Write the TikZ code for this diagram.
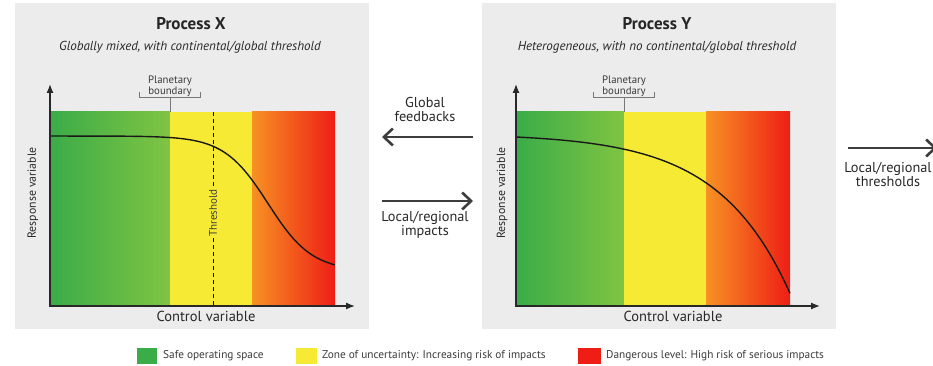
\documentclass[tikz,border=0pt]{standalone}
\usepackage{fontspec}
\setmainfont{PT Sans}
\usetikzlibrary{arrows.meta}
\definecolor{panelgray}{RGB}{236,236,236}
\definecolor{gA}{RGB}{58,172,72}
\definecolor{gB}{RGB}{128,196,66}
\definecolor{yel}{RGB}{246,234,52}
\definecolor{oA}{RGB}{247,145,35}
\definecolor{rB}{RGB}{238,30,22}
\definecolor{ink}{RGB}{40,40,40}
\definecolor{txt}{RGB}{60,60,60}
\definecolor{brk}{RGB}{120,120,120}
\begin{document}
\begin{tikzpicture}[x=1pt,y=-1pt,
  axis/.style={draw=ink,line width=1.3pt,{Latex[length=9pt,width=7pt]}-{Latex[length=9pt,width=7pt]}},
  curve/.style={draw=black!90,line width=1.4pt},
  bracket/.style={draw=brk,line width=0.8pt},
  bigarrow/.style={draw=ink!90,line width=2.6pt,-{Straight Barb[length=9pt,width=17pt]}},
  title/.style={font=\fontsize{17}{20}\selectfont\bfseries,text=black!85},
  subtitle/.style={font=\fontsize{13}{15}\selectfont\itshape,text=ink},
  pblabel/.style={font=\fontsize{10.8}{11}\selectfont,text=txt,align=center},
  axlabel/.style={font=\fontsize{14.5}{16}\selectfont,text=ink},
  ylabel/.style={font=\fontsize{11.8}{13}\selectfont,text=ink,rotate=90},
  midlabel/.style={font=\fontsize{14.3}{14}\selectfont,text=ink,align=center},
  legtext/.style={font=\fontsize{11.3}{12}\selectfont,text=txt,anchor=west,inner sep=0pt}
]
\useasboundingbox (0,0) rectangle (933,366);
\fill[white] (0,0) rectangle (933,366);
\clip (0,0) rectangle (933,366);

% panels
\fill[panelgray] (15,3) rectangle (369,329);
\fill[panelgray] (482,3) rectangle (836,329);

% ---------- Process X ----------
\node[title] (tX) at (191,24) {Process X};
\node[subtitle] (sX) at (190,47) {Globally mixed, with continental/global threshold};
\shade[left color=gA,right color=gB] (50,112) rectangle (170,306);
\fill[yel] (170,112) rectangle (252,306);
\shade[left color=oA,right color=rB] (252,112) rectangle (335,306);
% threshold
\draw[black,line width=0.9pt,dash pattern=on 4pt off 3pt] (213,112) -- (213,306);
\node[rotate=90,fill=yel,inner sep=1.5pt,font=\fontsize{11}{12}\selectfont,text=txt] (thr) at (213,213) {Threshold};
% curve
\draw[curve] (50,136) -- (120,136.2) -- plot[domain=120:335,samples=120] (\x,{136+135/(1+exp(-(\x-268)/22))});
% axes
\coordinate (yX) at (50,84);
\coordinate (xX) at (355,306);
\draw[axis] (yX) |- (xX);
% planetary boundary
\node[pblabel] (pbX) at (170,86) {Planetary\\boundary};
\draw[bracket] (139,92) -- (139,97) -- (200,97) -- (200,92);
\draw[bracket] (170,97) -- (170,112);
% labels
\node[ylabel] (rvX) at (33,193) {Response variable};
\node[axlabel] (cvX) at (206,316) {Control variable};

% ---------- middle arrows ----------
\node[midlabel] (gf) at (425,109) {Global\\feedbacks};
\coordinate (gfR) at (473,137);
\coordinate (gfL) at (382,137);
\draw[bigarrow] (gfR) -- (gfL);
\coordinate (liL) at (382,201);
\coordinate (liR) at (473,201);
\draw[bigarrow] (liL) -- (liR);
\node[midlabel] (li) at (425,225) {Local/regional\\impacts};

% ---------- Process Y ----------
\node[title] (tY) at (657,24) {Process Y};
\node[subtitle] (sY) at (657,47) {Heterogeneous, with no continental/global threshold};
\shade[left color=gA,right color=gB] (516,112) rectangle (624,306);
\fill[yel] (624,112) rectangle (706,306);
\shade[left color=oA,right color=rB] (706,112) rectangle (790,306);
\draw[curve] plot[domain=516:790,samples=120] (\x,{137+3.44*(exp(0.014*(\x-516))-1)});
\coordinate (yY) at (516,84);
\coordinate (xY) at (820,306);
\draw[axis] (yY) |- (xY);
\node[pblabel] (pbY) at (624,86) {Planetary\\boundary};
\draw[bracket] (593,92) -- (593,97) -- (654,97) -- (654,92);
\draw[bracket] (624,97) -- (624,112);
\node[ylabel] (rvY) at (502,193) {Response variable};
\node[axlabel] (cvY) at (673,316) {Control variable};

% ---------- right arrow ----------
\coordinate (ltL) at (848,148);
\coordinate (ltR) at (937,148);
\draw[bigarrow] (ltL) -- (ltR);
\node[midlabel] (lt) at (888,174) {Local/regional\\thresholds};

% ---------- legend ----------
\fill[gA] (137,348) rectangle (157,364);
\node[legtext] (l1) at (163,356) {Safe operating space};
\fill[yel] (296,348) rectangle (317,364);
\node[legtext] (l2) at (322,356) {Zone of uncertainty: Increasing risk of impacts};
\fill[rB] (578,348) rectangle (601,364);
\node[legtext] (l3) at (606,356) {Dangerous level: High risk of serious impacts};
\end{tikzpicture}
\end{document}
